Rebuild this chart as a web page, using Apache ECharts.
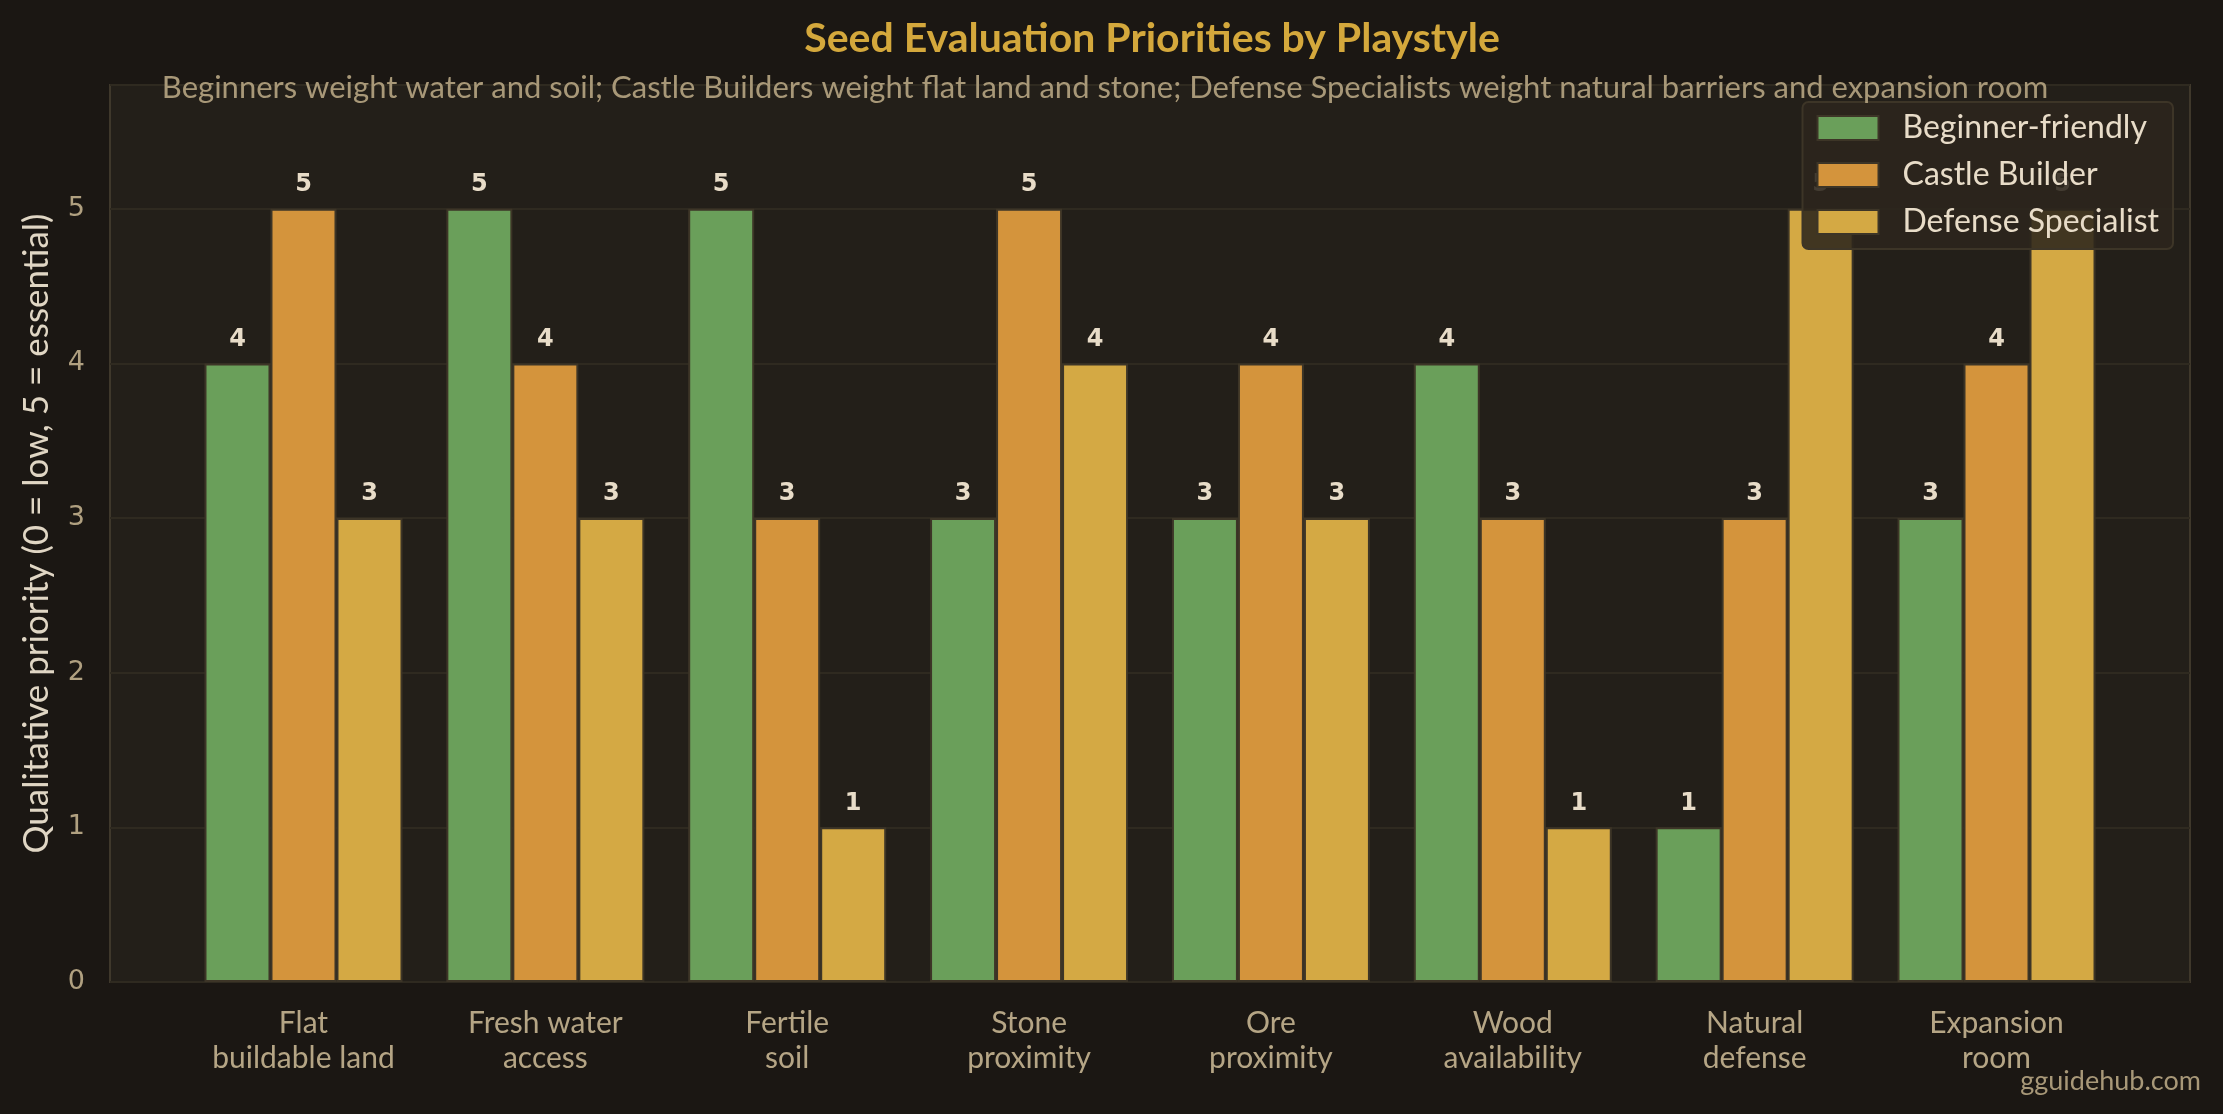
<!DOCTYPE html>
<html><head><meta charset="utf-8">
<script src="https://cdn.jsdelivr.net/npm/echarts@6/dist/echarts.min.js"></script>
<style>html,body{margin:0;padding:0;background:#1b1713;}#c{width:2223px;height:1114px;}</style>
</head><body><div id="c"></div>
<script>
const categories = ["Flat\nbuildable land","Fresh water\naccess","Fertile\nsoil","Stone\nproximity","Ore\nproximity","Wood\navailability","Natural\ndefense","Expansion\nroom"];
const seriesNames = ["Beginner-friendly","Castle Builder","Defense Specialist"];
const beginner = [4,5,5,3,3,4,1,3];
const castle = [5,4,3,5,4,3,3,4];
const defense = [3,3,1,4,3,1,5,5];
const yTicks = [0,1,2,3,4,5];
const colors = ["#6a9f5a","#d4943c","#d4a944"];

const FONT = "Lato, 'Noto Sans', sans-serif";
const chart = echarts.init(document.getElementById('c'), null, {renderer:'canvas'});
const plotL = 110, plotT = 85, plotW = 2080, plotH = 897;
const step = plotW / 8.6;
const vals = [beginner, castle, defense];
chart.setOption({
  backgroundColor: '#1b1713',
  animation: false,
  title: [
    {text: 'Seed Evaluation Priorities by Playstyle', left: plotL + plotW/2 - 3, textAlign: 'center', top: 13,
     textStyle: {color: '#d4a83c', fontFamily: FONT, fontWeight: 'bold', fontSize: 41}},
    {text: 'Beginners weight water and soil; Castle Builders weight flat land and stone; Defense Specialists weight natural barriers and expansion room',
     left: 1100, textAlign: 'center', top: 67,
     textStyle: {color: '#a89878', fontFamily: FONT, fontWeight: 'normal', fontSize: 31}},
    {text: 'gguidehub.com', right: 17, top: 1063,
     textStyle: {color: '#a89878', fontFamily: FONT, fontWeight: 'normal', fontSize: 27}}
  ],
  legend: {
    data: seriesNames, right: 50, top: 102, orient: 'vertical',
    icon: 'rect',
    itemWidth: 61, itemHeight: 24, itemGap: 15,
    backgroundColor: 'rgba(44,38,28,0.88)', borderColor: '#3d3527', borderWidth: 2, borderRadius: 6,
    padding: [10, 14, 11, 14],
    textStyle: {color: '#e8dcc8', fontFamily: FONT, fontSize: 32, padding: [0,0,0,19]}
  },
  grid: [
    {left: plotL, top: plotT, width: plotW, height: plotH, show: true, backgroundColor: '#231f19', borderColor: '#3f382b', borderWidth: 2},
    {left: plotL + 0.3*step, top: plotT, width: 8*step, height: plotH}
  ],
  xAxis: [
    {gridIndex: 0, type: 'value', min: 0, max: 1, show: false},
    {gridIndex: 1, type: 'category', data: categories,
     axisLine: {show: false}, axisTick: {show: false},
     axisLabel: {color: '#b5a585', fontFamily: FONT, fontSize: 30, lineHeight: 35, margin: 24}}
  ],
  yAxis: [
    {gridIndex: 0, type: 'value', min: 0, max: 5.8, interval: 1,
     name: 'Qualitative priority (0 = low, 5 = essential)', nameLocation: 'middle', nameGap: 56,
     nameTextStyle: {color: '#e0d6c4', fontFamily: FONT, fontSize: 35},
     axisLine: {show: false}, axisTick: {show: false},
     splitLine: {lineStyle: {color: '#2f2a20', width: 2}},
     axisLabel: {color: '#b0a080', fontFamily: "'DejaVu Sans', sans-serif", fontSize: 27, margin: 25,
       formatter: v => (yTicks.indexOf(v) >= 0 ? String(v) : '')}},
    {gridIndex: 1, type: 'value', min: 0, max: 5.8, show: false}
  ],
  series: seriesNames.map((n, k) => ({
    name: n, type: 'bar', xAxisIndex: 1, yAxisIndex: 1, data: vals[k],
    barWidth: 66, barGap: '0%',
    itemStyle: {color: colors[k], borderColor: '#3d3527', borderWidth: 2},
    label: {show: true, position: 'top', distance: 12, color: '#e8dcc8', fontFamily: "'DejaVu Sans', sans-serif", fontWeight: 'bold', fontSize: 24}
  }))
});
</script></body></html>
